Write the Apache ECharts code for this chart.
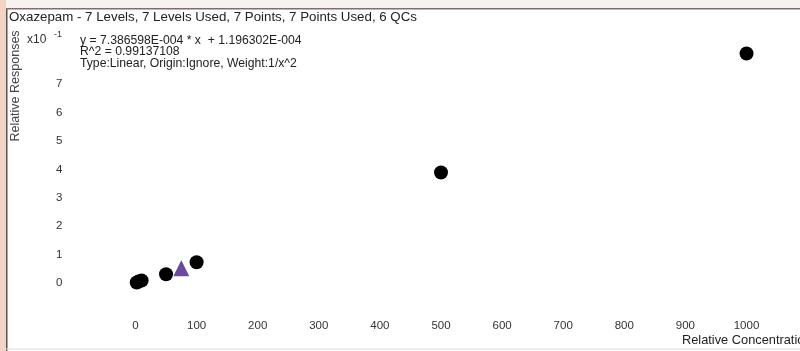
<!DOCTYPE html>
<html>
<head>
<meta charset="utf-8">
<script src="https://cdn.jsdelivr.net/npm/echarts@6/dist/echarts.min.js"></script>
<style>
  html, body { margin: 0; padding: 0; background: #ffffff; }
  #chart { width: 800px; height: 351px; }
</style>
</head>
<body>
<div id="chart"></div>
<script>
// Calibration standards (concentration, response in units of x10^-1)
var calConc = [2, 5, 10, 50, 100, 500, 1000];
var calResp = [0.02, 0.05, 0.09, 0.31, 0.73, 3.89, 8.08];
// Quality-control sample
var qcConc = [75];
var qcResp = [0.52];
// Axis ticks shown
var xTicks = [0, 100, 200, 300, 400, 500, 600, 700, 800, 900, 1000];
var yTicks = [0, 1, 2, 3, 4, 5, 6, 7];

var titleText = 'Oxazepam - 7 Levels, 7 Levels Used, 7 Points, 7 Points Used, 6 QCs';
var fitLines = [
  'y = 7.386598E-004 * x  + 1.196302E-004',
  'R^2 = 0.99137108',
  'Type:Linear, Origin:Ignore, Weight:1/x^2'
];

var FONT = '"Liberation Sans", Arial, sans-serif';
var chart = echarts.init(document.getElementById('chart'), null, { renderer: 'canvas' });

function pairs(xs, ys) { return xs.map(function (x, i) { return [x, ys[i]]; }); }

var textGraphics = [
  // frame: pink side strip, dark edge, top rule
  { type: 'rect', left: 0, top: 0, shape: { width: 6, height: 351 }, style: { fill: '#f3d3c4' }, z: 10 },
  { type: 'rect', left: 6, top: 8, shape: { width: 1.5, height: 343 }, style: { fill: '#5a5050' }, z: 10 },
  { type: 'rect', left: 0, top: 0, shape: { width: 800, height: 8 }, style: { fill: '#f7f2f0' }, z: 9 },
  { type: 'rect', left: 6, top: 8, shape: { width: 794, height: 1.5 }, style: { fill: '#7a7070' }, z: 10 },
  { type: 'rect', left: 6, top: 348.5, shape: { width: 794, height: 1 }, style: { fill: '#dcdcdc' }, z: 10 },
  { type: 'text', left: 9, top: 11, style: { text: titleText, font: '13.3px ' + FONT, fill: '#222' } },
  { type: 'text', left: 27, top: 34, style: { text: 'x10', font: '12px ' + FONT, fill: '#333' } },
  { type: 'text', left: 54, top: 30, style: { text: '-1', font: '9px ' + FONT, fill: '#333' } },
  {
    type: 'text', x: 16, y: 86, rotation: Math.PI / 2,
    style: { text: 'Relative Responses', font: '12.5px ' + FONT, fill: '#444', align: 'center', verticalAlign: 'middle' }
  },
  { type: 'text', left: 682, top: 334, style: { text: 'Relative Concentration', font: '12.8px ' + FONT, fill: '#222' } }
];
fitLines.forEach(function (t, i) {
  textGraphics.push({ type: 'text', left: 80, top: 34.5 + i * 11.5, style: { text: t, font: '12.2px ' + FONT, fill: '#222' } });
});

chart.setOption({
  animation: false,
  backgroundColor: '#ffffff',
  grid: { left: 74.4, right: 4.6, top: 41.6, bottom: 39.6, containLabel: false },
  xAxis: {
    type: 'value', min: -100, max: 1080, interval: 100,
    axisLine: { show: false }, axisTick: { show: false }, splitLine: { show: false },
    axisLabel: {
      margin: 8, color: '#333', fontSize: 11.5, fontFamily: FONT, showMaxLabel: false,
      formatter: function (v) { return xTicks.indexOf(v) >= 0 ? String(v) : ''; }
    }
  },
  yAxis: {
    type: 'value', min: -1, max: 8.5, interval: 1,
    axisLine: { show: false }, axisTick: { show: false }, splitLine: { show: false },
    axisLabel: {
      margin: 12, color: '#333', fontSize: 11.5, fontFamily: FONT, showMaxLabel: false,
      formatter: function (v) { return yTicks.indexOf(v) >= 0 ? String(v) : ''; }
    }
  },
  graphic: textGraphics,
  series: [
    {
      name: 'Standards', type: 'scatter', data: pairs(calConc, calResp),
      symbol: 'circle', symbolSize: 14,
      itemStyle: { color: '#000000', opacity: 1 }
    },
    {
      name: 'QC', type: 'scatter', data: pairs(qcConc, qcResp),
      symbol: 'triangle', symbolSize: 16,
      itemStyle: { color: '#6a4a9c', opacity: 1 }
    }
  ]
});
</script>
</body>
</html>
